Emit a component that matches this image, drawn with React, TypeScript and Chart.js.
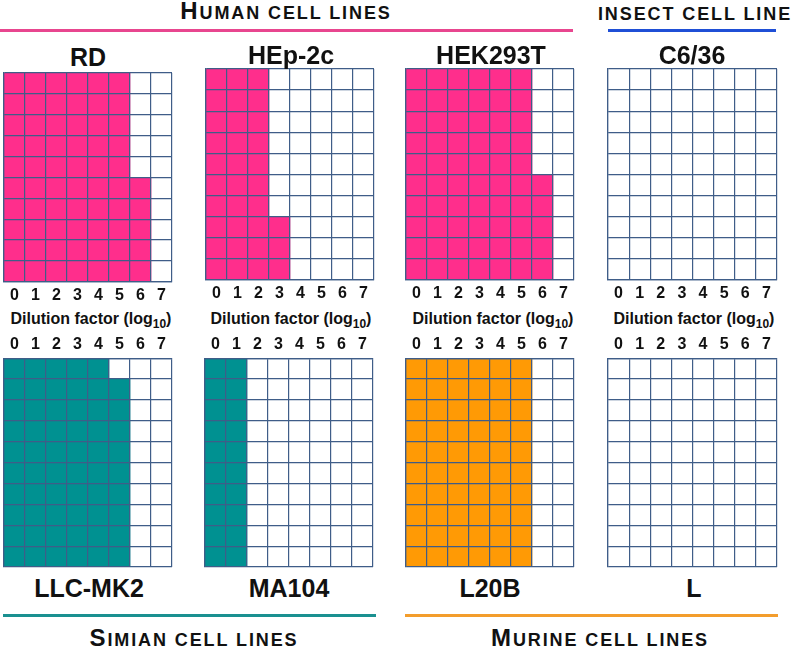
import React, { useEffect, useRef } from "react";
import { Chart, registerables } from "chart.js";

Chart.register(...registerables);

// ---- data ----
const dilutionTicks = ["0", "1", "2", "3", "4", "5", "6", "7"];
const wellsPerDilution = 10;

// number of positive wells (out of 10) per dilution, counted from the bottom
const rdWells = [10, 10, 10, 10, 10, 10, 5, 0];
const hep2cWells = [10, 10, 10, 3, 0, 0, 0, 0];
const hek293tWells = [10, 10, 10, 10, 10, 10, 5, 0];
const c636Wells = [0, 0, 0, 0, 0, 0, 0, 0];
const llcmk2Wells = [10, 10, 10, 10, 10, 9, 0, 0];
const ma104Wells = [10, 10, 0, 0, 0, 0, 0, 0];
const l20bWells = [10, 10, 10, 10, 10, 10, 0, 0];
const lWells = [0, 0, 0, 0, 0, 0, 0, 0];

const cellLineNames = ["RD", "HEp-2c", "HEK293T", "C6/36", "LLC-MK2", "MA104", "L20B", "L"];
const groupNames = ["Human cell lines", "insect cell line", "Simian cell lines", "Murine cell lines"];
const axisTitle = "Dilution factor (log";
const axisSub = "10";

// ---- styles ----
const FONT = '"Liberation Sans", Arial, Helvetica, sans-serif';
const GRID = "#3f5d88";
const PINK = "#ff2e8c";
const TEAL = "#009191";
const ORANGE = "#ff9a05";
const TEXT = "#111111";

type PanelProps = {
  x: number;
  y: number;
  w: number;
  h: number;
  data: number[];
  color: string;
  axisPos: "top" | "bottom";
};

function Panel({ x, y, w, h, data, color, axisPos }: PanelProps) {
  const ref = useRef<HTMLCanvasElement>(null);
  useEffect(() => {
    const canvas = ref.current!;
    const makeConfig = (): any => ({
      type: "bar",
      data: {
        labels: dilutionTicks.slice(),
        datasets: [
          {
            data: data.slice(),
            backgroundColor: color,
            borderWidth: 0,
            barPercentage: 1,
            categoryPercentage: 1,
          },
        ],
      },
      options: {
        responsive: false,
        maintainAspectRatio: false,
        animation: false,
        devicePixelRatio: 1,
        events: [],
        layout: {
          padding: {
            left: 2,
            right: 2,
            top: axisPos === "bottom" ? 2 : 0,
            bottom: axisPos === "top" ? 2 : 0,
          },
        },
        plugins: { legend: { display: false }, tooltip: { enabled: false } },
        scales: {
          x: {
            position: axisPos,
            offset: true,
            grid: { color: GRID, lineWidth: 1.2, drawTicks: false, offset: true, z: 1 },
            border: { color: GRID, width: 1.2, z: 1 },
            ticks: {
              color: TEXT,
              font: { family: FONT, size: 16, weight: "bold" },
              padding: 4,
              maxRotation: 0,
              autoSkip: false,
            },
          },
          y: {
            min: 0,
            max: wellsPerDilution,
            grid: { color: GRID, lineWidth: 1.2, drawTicks: false, z: 1 },
            border: { color: GRID, width: 1.2, z: 1 },
            ticks: { display: false, stepSize: 1 },
          },
        },
      },
    });
    const build = (cw: number, ch: number) => {
      canvas.setAttribute("width", String(cw));
      canvas.setAttribute("height", String(ch));
      return new Chart(canvas, makeConfig());
    };
    let cw = w + 4;
    let ch = h + 40;
    let chart = build(cw, ch);
    let a = chart.chartArea;
    cw = Math.round(cw + (w - (a.right - a.left)));
    ch = Math.round(ch + (h - (a.bottom - a.top)));
    chart.destroy();
    chart = build(cw, ch);
    a = chart.chartArea;
    canvas.style.position = "absolute";
    canvas.style.left = `${x - a.left}px`;
    canvas.style.top = `${y - a.top}px`;
    return () => chart.destroy();
  }, []);
  return <canvas ref={ref} style={{ position: "absolute" }} />;
}

function Label({
  cx,
  cy,
  size,
  children,
  spacing,
}: {
  cx: number;
  cy: number;
  size: number;
  children: React.ReactNode;
  spacing?: number;
}) {
  return (
    <div
      style={{
        position: "absolute",
        left: cx,
        top: cy,
        transform: "translate(-50%, -50%)",
        fontFamily: FONT,
        fontWeight: "bold",
        fontSize: size,
        lineHeight: 1,
        color: TEXT,
        whiteSpace: "nowrap",
        letterSpacing: spacing ? `${spacing}px` : "normal",
      }}
    >
      {children}
    </div>
  );
}

// small caps built by hand: upper-case letters at full size, lower-case as smaller capitals
function SmallCaps({ text, big, small }: { text: string; big: number; small: number }) {
  const parts: React.ReactNode[] = [];
  let buf = "";
  let bufBig: boolean | null = null;
  const flush = (k: number) => {
    if (buf) {
      parts.push(
        <span key={k} style={{ fontSize: bufBig ? big : small }}>
          {buf.toUpperCase()}
        </span>
      );
    }
    buf = "";
  };
  Array.from(text).forEach((c, i) => {
    const isBig = c !== " " && c === c.toUpperCase();
    if (bufBig !== null && isBig !== bufBig) flush(i);
    bufBig = isBig;
    buf += c;
  });
  flush(text.length + 1);
  return <>{parts}</>;
}

function Rule({ x1, x2, y, color }: { x1: number; x2: number; y: number; color: string }) {
  return (
    <div
      style={{
        position: "absolute",
        left: x1,
        top: y - 1.5,
        width: x2 - x1,
        height: 3,
        background: color,
      }}
    />
  );
}

function AxisTitle({ cx }: { cx: number }) {
  return (
    <Label cx={cx} cy={319} size={16}>
      {axisTitle}
      <sub style={{ fontSize: 12, verticalAlign: "-4px", lineHeight: 0 }}>{axisSub}</sub>)
    </Label>
  );
}

export default function App() {
  const panels = [
    { x: 4, y: 73, w: 168, h: 209, data: rdWells, color: PINK, axisPos: "bottom" as const },
    { x: 206, y: 69, w: 168, h: 211, data: hep2cWells, color: PINK, axisPos: "bottom" as const },
    { x: 406, y: 69, w: 168, h: 211, data: hek293tWells, color: PINK, axisPos: "bottom" as const },
    { x: 608, y: 69, w: 169, h: 211, data: c636Wells, color: PINK, axisPos: "bottom" as const },
    { x: 4, y: 358, w: 168, h: 209, data: llcmk2Wells, color: TEAL, axisPos: "top" as const },
    { x: 205, y: 358, w: 168, h: 209, data: ma104Wells, color: TEAL, axisPos: "top" as const },
    { x: 406, y: 358, w: 168, h: 209, data: l20bWells, color: ORANGE, axisPos: "top" as const },
    { x: 608, y: 358, w: 169, h: 209, data: lWells, color: ORANGE, axisPos: "top" as const },
  ];
  const titlePos = [
    [88, 57],
    [291, 55],
    [491, 55],
    [692, 55],
    [89, 588],
    [289, 588],
    [490, 588],
    [694, 588],
  ];
  return (
    <div
      style={{
        position: "absolute",
        left: 0,
        top: 0,
        width: 791,
        height: 648,
        background: "#ffffff",
        overflow: "hidden",
      }}
    >
      <Label cx={286} cy={11} size={24} spacing={1.9}>
        <SmallCaps text={groupNames[0]} big={24} small={18} />
      </Label>
      <Label cx={695} cy={12} size={24} spacing={1.9}>
        <SmallCaps text={groupNames[1]} big={24} small={18} />
      </Label>
      <Rule x1={0} x2={573} y={30} color="#e8468f" />
      <Rule x1={608} x2={776} y={30} color="#1f4fd6" />

      {panels.map((p, i) => (
        <Panel key={i} {...p} />
      ))}
      {titlePos.map(([cx, cy], i) => (
        <Label key={cellLineNames[i]} cx={cx} cy={cy} size={25}>
          {cellLineNames[i]}
        </Label>
      ))}
      <AxisTitle cx={91} />
      <AxisTitle cx={291} />
      <AxisTitle cx={493} />
      <AxisTitle cx={694} />

      <Rule x1={3} x2={376} y={615} color="#1a9090" />
      <Rule x1={405} x2={778} y={615} color="#f39d2c" />
      <Label cx={194} cy={638} size={24} spacing={1.9}>
        <SmallCaps text={groupNames[2]} big={24} small={18} />
      </Label>
      <Label cx={600} cy={638} size={24} spacing={1.9}>
        <SmallCaps text={groupNames[3]} big={24} small={18} />
      </Label>
    </div>
  );
}
